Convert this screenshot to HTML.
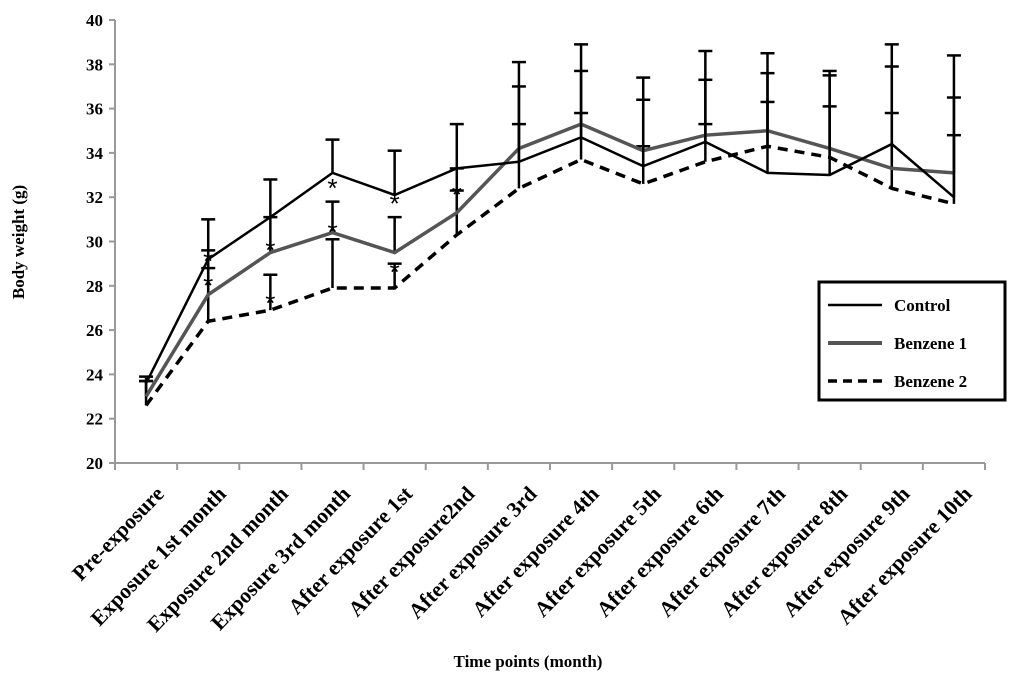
<!DOCTYPE html>
<html><head><meta charset="utf-8"><style>
body{margin:0;background:#fff;width:1024px;height:684px;overflow:hidden;font-family:"Liberation Serif",serif}
</style></head><body>
<svg width="1024" height="684" id="c">
<text transform="translate(24,242) rotate(-90)" text-anchor="middle" font-size="17" font-weight="bold" font-family="Liberation Serif">Body weight (g)</text>
<text x="528" y="667" text-anchor="middle" font-size="17" font-weight="bold" font-family="Liberation Serif">Time points (month)</text>
<g>
<rect x="819" y="282" width="186" height="118" fill="#fff" stroke="#000" stroke-width="3"/>
<line x1="828" y1="305" x2="882" y2="305" stroke="#000" stroke-width="2.5"/>
<text x="894" y="311" font-size="17" font-weight="bold">Control</text>
<line x1="828" y1="343" x2="882" y2="343" stroke="#555" stroke-width="4"/>
<text x="894" y="349" font-size="17" font-weight="bold">Benzene 1</text>
<line x1="828" y1="381" x2="882" y2="381" stroke="#000" stroke-width="3.5" stroke-dasharray="9,6"/>
<text x="894" y="387" font-size="17" font-weight="bold">Benzene 2</text>
</g>
</svg>
<script>
const categories=["Pre-exposure","Exposure 1st month","Exposure 2nd month","Exposure 3rd month","After exposure 1st","After exposure2nd","After exposure 3rd","After exposure 4th","After exposure 5th","After exposure 6th","After exposure 7th","After exposure 8th","After exposure 9th","After exposure 10th"];
const control=[23.6,29.2,31.1,33.1,32.1,33.3,33.6,34.7,33.4,34.5,33.1,33.0,34.4,32.0];
const benzene1=[23.0,27.6,29.5,30.4,29.5,31.3,34.2,35.3,34.1,34.8,35.0,34.2,33.3,33.1];
const benzene2=[22.6,26.4,26.9,27.9,27.9,30.3,32.4,33.7,32.6,33.6,34.3,33.8,32.4,31.7];
const controlErr=[0.3,1.8,1.7,1.5,2.0,2.0,4.5,4.2,4.0,4.1,5.4,4.7,4.5,6.4];
const benzene1Err=[0.7,2.0,1.6,1.4,1.6,1.0,2.8,2.4,2.3,2.5,2.6,3.3,4.6,3.4];
const benzene2Err=[1.1,2.4,1.6,2.2,1.1,3.0,2.9,2.1,1.7,1.7,2.0,2.3,3.4,3.1];
const yTicks=[20,22,24,26,28,30,32,34,36,38,40];
const asterisks=[[1,29.3],[1,28.2],[2,29.8],[2,27.4],[3,32.6],[3,30.6],[4,31.9],[4,28.8],[5,32.3]];
const NS="http://www.w3.org/2000/svg",svg=document.getElementById('c');
const X0=115,X1=985,Y0=463,Y1=20;
const xs=i=>X0+(X1-X0)/categories.length*(i+0.5);
const ys=v=>Y0-(v-20)/(40-20)*(Y0-Y1);
function el(t,a,p){const e=document.createElementNS(NS,t);for(const k in a)e.setAttribute(k,a[k]);(p||svg).appendChild(e);return e;}
const ax=el('g',{});


el('line',{x1:X0,y1:Y1,x2:X0,y2:Y0,stroke:'#999','stroke-width':2},ax);
el('line',{x1:X0,y1:Y0,x2:X1,y2:Y0,stroke:'#999','stroke-width':2},ax);
yTicks.forEach(v=>{
 el('line',{x1:X0-6,y1:ys(v),x2:X0,y2:ys(v),stroke:'#999','stroke-width':2},ax);
 const t=el('text',{x:X0-12,y:ys(v)+6,'text-anchor':'end','font-size':17,'font-weight':'bold'},ax);
 
 
 t.textContent=v;
});
for(let i=0;i<=categories.length;i++){const x=X0+(X1-X0)/categories.length*i;el('line',{x1:x,y1:Y0,x2:x,y2:Y0+7,stroke:'#999','stroke-width':2},ax);}
categories.forEach((c,i)=>{
 const t=el('text',{transform:`translate(${xs(i)+19},${Y0+32}) rotate(-46)`,'text-anchor':'end','font-size':21.5,'font-weight':'bold'},ax);
 
 
 t.textContent=c;
});
function series(vals,err,name,style){
 const g=el('g',{});
 
 
 vals.forEach((v,i)=>{
  const x=xs(i),top=ys(v+err[i]);
  el('line',{x1:x,y1:ys(v),x2:x,y2:top,stroke:'#000','stroke-width':2.5},g);
  el('line',{x1:x-7,y1:top,x2:x+7,y2:top,stroke:'#000','stroke-width':2.5},g);
 });
 const p=el('polyline',Object.assign({points:vals.map((v,i)=>xs(i)+','+ys(v)).join(' '),fill:'none'},style),g);
 
 
}
series(benzene2,benzene2Err,'benzene-2-series',{stroke:'#000','stroke-width':3.5,'stroke-dasharray':'10,7'});
series(benzene1,benzene1Err,'benzene-1-series',{stroke:'#555','stroke-width':3.5});
series(control,controlErr,'control-series',{stroke:'#000','stroke-width':2.5});
asterisks.forEach(a=>{
 const t=el('text',{x:xs(a[0]),y:ys(a[1])+13,'text-anchor':'middle','font-size':26,'font-family':'Liberation Sans'});
 
 
 t.textContent='*';
});
</script>
</body></html>
